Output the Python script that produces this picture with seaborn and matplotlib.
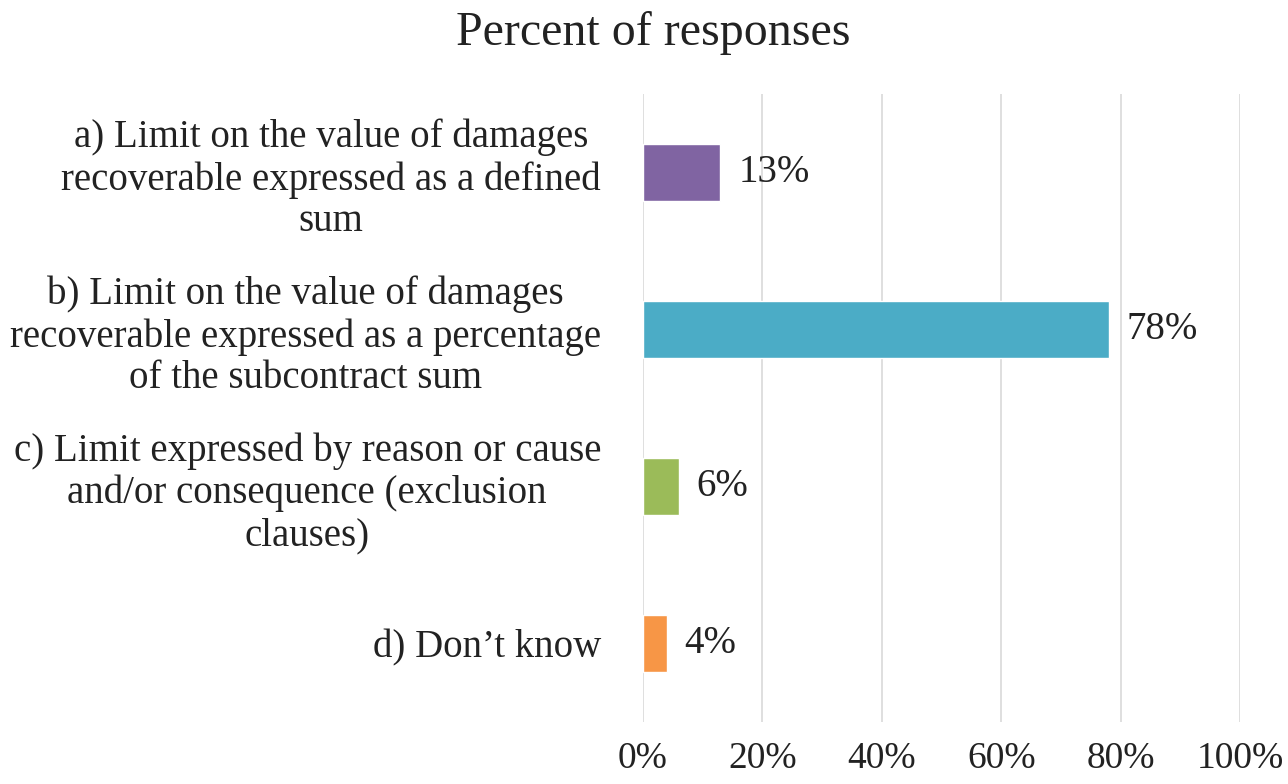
import matplotlib
matplotlib.use("Agg")
import matplotlib.pyplot as plt
import seaborn as sns
import pandas as pd
from matplotlib.ticker import FuncFormatter

categories = [
    "a) Limit on the value of damages\nrecoverable expressed as a defined\nsum",
    "b) Limit on the value of damages\nrecoverable expressed as a percentage\nof the subcontract sum",
    "c) Limit expressed by reason or cause\nand/or consequence (exclusion\nclauses)",
    "d) Don\u2019t know",
]
values = [13, 78, 6, 4]
colors = ["#8064A2", "#4BACC6", "#9BBB59", "#F79646"]
x_ticks = [0, 20, 40, 60, 80, 100]
title = "Percent of responses"

sns.set_theme(style="white")
plt.rcParams["font.family"] = ["Liberation Serif", "DejaVu Serif"]

df = pd.DataFrame({"category": categories, "value": values})

fig = plt.figure(figsize=(12.88, 7.84), dpi=100)
ax = fig.add_axes([0.499, 0.079, 0.464, 0.801])

sns.barplot(
    data=df, x="value", y="category", hue="category",
    palette=colors, legend=False, width=0.36, orient="h",
    saturation=1, ax=ax,
)

ax.set_xlim(0, 100)
ax.set_ylim(3.5, -0.5)
ax.set_xticks(x_ticks)
ax.xaxis.set_major_formatter(FuncFormatter(lambda v, _: f"{v:.0f}%"))
ax.grid(axis="x", color="#D9D9D9", linewidth=1.2)
ax.set_axisbelow(True)
for s in ax.spines.values():
    s.set_visible(False)
ax.set_xlabel("")
ax.set_ylabel("")
ax.tick_params(axis="x", length=0, pad=14, labelsize=27, labelcolor="#222222")
ax.tick_params(axis="y", length=0, pad=30, labelsize=28, labelcolor="#222222")
for lbl in ax.get_yticklabels():
    lbl.set_multialignment("center")
    lbl.set_linespacing(1.17)

for cont, v in zip(ax.containers, values):
    ax.bar_label(cont, labels=[f"{v}%"], padding=13, fontsize=28, color="#222222")

fig.text(0.507, 0.958, title, ha="center", va="center", fontsize=34.5, color="#222222")

fig.savefig("out.png", dpi=100, facecolor="white")
